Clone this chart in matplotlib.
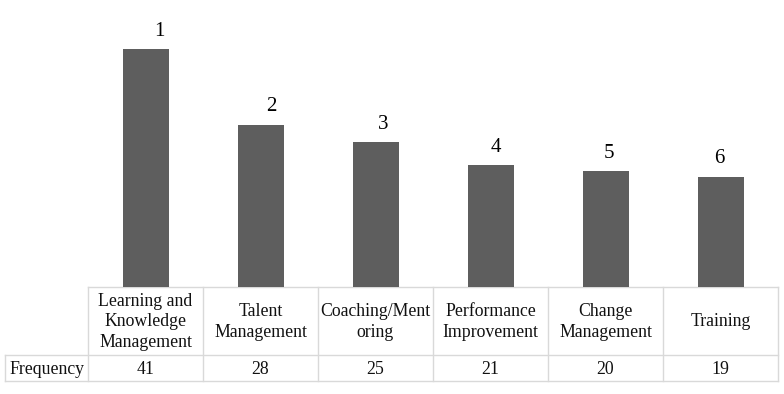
import matplotlib
matplotlib.use('Agg')
import matplotlib.pyplot as plt

categories = ['Learning and\nKnowledge\nManagement', 'Talent\nManagement',
              'Coaching/Ment\noring', 'Performance\nImprovement',
              'Change\nManagement', 'Training']
frequency = [41, 28, 25, 21, 20, 19]
ranks = ['1', '2', '3', '4', '5', '6']
row_label = 'Frequency'

BAR = '#5e5e5e'
GRID = '#d9d9d9'
TXT = '#111111'
SERIF = ['Liberation Serif', 'DejaVu Serif']
FS = 12.8
# rank labels drift from right of the bar towards its centre
label_dx = [0.12, 0.09, 0.07, 0.05, 0.03, -0.01]

W, H = 784, 394
fig = plt.figure(figsize=(W / 100, H / 100), dpi=100)

# table grid in pixel units
LEFT, COL0, COLW = 5, 88, 115
TOP, MID, BOT = 287, 355, 381
n = len(categories)
RIGHT = COL0 + COLW * n

# the bar axes spans the category columns, baseline on the table top
ax = fig.add_axes([COL0 / W, 1 - TOP / H, (RIGHT - COL0) / W, TOP / H])
x = range(n)
ax.bar(x, frequency, width=0.4, color=BAR)
for i, (v, r) in enumerate(zip(frequency, ranks)):
    ax.annotate(r, (i + label_dx[i], v), xytext=(0, 6), textcoords='offset points',
                ha='center', va='bottom', fontsize=15, family=SERIF)
ax.set_xlim(-0.5, n - 0.5)
ax.set_ylim(0, TOP / 5.8)
ax.axis('off')

# overlay in pixel coordinates for the table
tax = fig.add_axes([0, 0, 1, 1], zorder=-1)
tax.set_xlim(0, W)
tax.set_ylim(H, 0)
tax.axis('off')

lw = 1.0
tax.plot([COL0, RIGHT], [TOP, TOP], color=GRID, lw=lw)
tax.plot([LEFT, RIGHT], [MID, MID], color=GRID, lw=lw)
tax.plot([LEFT, RIGHT], [BOT, BOT], color=GRID, lw=lw)
tax.plot([LEFT, LEFT], [MID, BOT], color=GRID, lw=lw)
for k in range(n + 1):
    xe = COL0 + COLW * k
    tax.plot([xe, xe], [TOP, BOT], color=GRID, lw=lw)

tax.text((LEFT + COL0) / 2, (MID + BOT) / 2 + 1, row_label, ha='center', va='center',
         fontsize=FS, family=SERIF, color=TXT)
for i, (c, f) in enumerate(zip(categories, frequency)):
    xc = COL0 + COLW * (i + 0.5)
    tax.text(xc, (TOP + MID) / 2 + 1, c, ha='center', va='center', fontsize=FS,
             family=SERIF, color=TXT, linespacing=1.24)
    tax.text(xc, (MID + BOT) / 2 + 1, str(f), ha='center', va='center', fontsize=FS,
             family=SERIF, color=TXT)

fig.savefig('out.png', dpi=100)
